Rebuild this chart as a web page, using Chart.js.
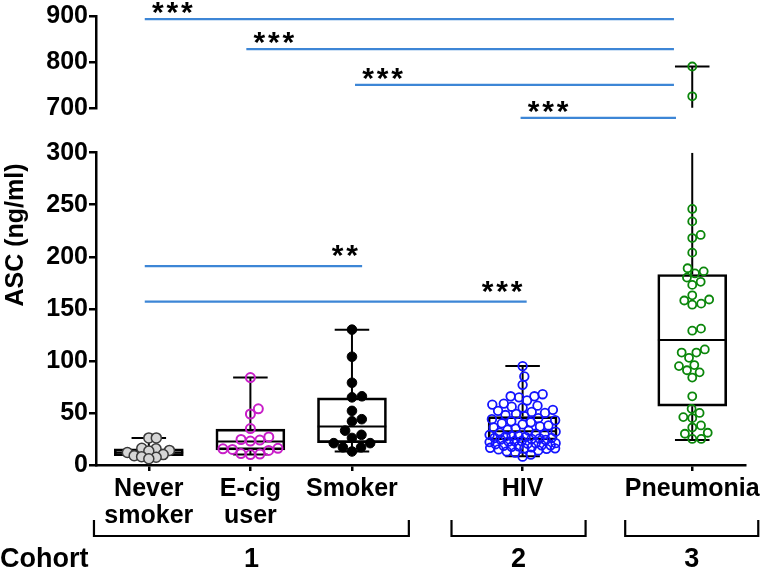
<!DOCTYPE html>
<html>
<head>
<meta charset="utf-8">
<script src="https://cdn.jsdelivr.net/npm/chart.js@4.4.0/dist/chart.umd.min.js"></script>
<style>
  html, body { margin: 0; padding: 0; background: #fff; }
  #wrap { width: 765px; height: 569px; }
</style>
</head>
<body>
<div id="wrap"><canvas id="ascChart"></canvas></div>
<script>
// groups along the x axis
var groupTicks = [["Never", "smoker"], ["E-cig", "user"], ["Smoker"], ["HIV"], ["Pneumonia"]];
var groupX = [1, 2, 3, 4.68, 6.35];

// ASC (ng/ml) per subject
var neverSmoker = [26, 26, 16, 15.5, 14, 13.5, 12, 10, 9, 8, 7.5, 6];
var ecigUser = [84, 54, 49, 35, 27, 24.5, 24, 23, 16, 15.5, 15, 14, 11, 10.5, 10];
var smoker = [130, 104, 79, 66, 65, 52, 44, 42, 33, 29, 26, 21, 21, 17, 17, 13];
var hiv = [95, 85, 77, 68, 66, 66, 65, 62, 59, 58, 57, 56, 55, 53, 52, 51, 50, 49, 48, 47,
  45, 44, 43, 42, 41, 40, 39, 38, 37, 36, 35, 34, 33, 32, 31, 30, 29.5, 29, 28, 28,
  27.5, 27, 26, 26, 25.5, 25, 24.5, 24, 23, 23, 22.5, 22, 21, 21, 20.5, 20, 19, 19,
  18.5, 18, 17.5, 17, 16.5, 16, 16, 15.5, 15, 14, 13, 12, 10, 8];
var pneumonia = [790, 725, 246, 234, 221, 218, 204, 189, 186, 184, 180, 176, 173, 163, 159,
  158, 155, 154, 131, 129, 111, 108, 108, 103, 96, 95, 91, 89, 84, 66, 54, 50, 46, 45,
  38, 36, 31, 30, 25, 25];

// box and whisker stats per group
var boxMin = [6, 10, 13, 8.5, 24];
var boxQ1 = [9, 14.5, 21.5, 24, 56.5];
var boxMedian = [12, 22.5, 37, 32.5, 120];
var boxQ3 = [15.5, 34.5, 64.5, 46.5, 183];
var boxMax = [26, 84, 130, 95, 790];

// broken y axis
var lowRange = [0, 300];
var highRange = [700, 900];

// significance bars
var sigY = [893, 828, 750, 678, 191, 157];
var sigFrom = [0.96, 1.96, 3.03, 4.66, 0.96, 0.96];
var sigTo = [6.17, 6.17, 6.17, 6.19, 3.1, 4.72];
var sigText = ["***", "***", "***", "***", "**", "***"];

// cohort brackets under the axis
var cohortFrom = [0.46, 3.98, 5.69];
var cohortTo = [3.56, 5.3, 7.0];
var cohortNames = ["1", "2", "3"];

var FONT = "'Liberation Sans', Arial, sans-serif";

function pointSet(values, g, high) {
  return values.filter(function (v) { return high ? v > lowRange[1] : v <= lowRange[1]; })
    .map(function (v) { return { x: groupX[g], y: v }; });
}

var pointStyles = [
  { bg: "#d6d6d6", border: "#3a3a3a", r: 5, w: 1.5 },
  { bg: "rgba(0,0,0,0)", border: "#c81ec8", r: 4.5, w: 2 },
  { bg: "#000000", border: "#000000", r: 4.8, w: 1 },
  { bg: "rgba(0,0,0,0)", border: "#1414ff", r: 4.3, w: 1.8 },
  { bg: "rgba(0,0,0,0)", border: "#0b870b", r: 4, w: 1.8 }
];
var allValues = [neverSmoker, ecigUser, smoker, hiv, pneumonia];

var pointDatasets = [];
allValues.forEach(function (vals, g) {
  [false, true].forEach(function (high) {
    var d = pointSet(vals, g, high);
    if (!d.length) return;
    var st = pointStyles[g];
    pointDatasets.push({
      type: "scatter",
      data: d,
      groupIndex: g,
      yAxisID: high ? "yHigh" : "yLow",
      pointRadius: st.r,
      pointBorderWidth: st.w,
      pointBackgroundColor: st.bg,
      pointBorderColor: st.border,
      order: 0
    });
  });
});

// whiskers, caps and medians as broken line segments
var boxHalf = 0.338, capHalf = 0.17;
var whiskLow = [], whiskHigh = [];
groupX.forEach(function (cx, i) {
  var gap = { x: cx, y: null };
  whiskLow.push({ x: cx - boxHalf, y: boxMedian[i] }, { x: cx + boxHalf, y: boxMedian[i] }, gap);
  whiskLow.push({ x: cx, y: boxQ1[i] }, { x: cx, y: boxMin[i] }, gap);
  whiskLow.push({ x: cx - capHalf, y: boxMin[i] }, { x: cx + capHalf, y: boxMin[i] }, gap);
  if (boxMax[i] > lowRange[1]) {
    whiskLow.push({ x: cx, y: boxQ3[i] }, { x: cx, y: lowRange[1] }, gap);
    whiskHigh.push({ x: cx, y: highRange[0] - 2 }, { x: cx, y: boxMax[i] }, gap);
    whiskHigh.push({ x: cx - capHalf, y: boxMax[i] }, { x: cx + capHalf, y: boxMax[i] }, gap);
  } else {
    whiskLow.push({ x: cx, y: boxQ3[i] }, { x: cx, y: boxMax[i] }, gap);
    whiskLow.push({ x: cx - capHalf, y: boxMax[i] }, { x: cx + capHalf, y: boxMax[i] }, gap);
  }
});

var lineStyle = { type: "line", borderColor: "#000", borderWidth: 2, pointRadius: 0, spanGaps: false, order: 1 };

var datasets = pointDatasets.concat([
  Object.assign({ data: whiskLow, yAxisID: "yLow" }, lineStyle),
  Object.assign({ data: whiskHigh, yAxisID: "yHigh" }, lineStyle),
  {
    type: "bar",
    data: groupX.map(function (cx, i) { return { x: cx, y: [boxQ1[i], boxQ3[i]] }; }),
    yAxisID: "yLow",
    barThickness: 69,
    backgroundColor: "rgba(255,255,255,0)",
    borderColor: "#000",
    borderWidth: 2,
    borderSkipped: false,
    order: 2
  }
]);

var decorPlugin = {
  id: "decor",
  afterDraw: function (chart) {
    var ctx = chart.ctx, xs = chart.scales.x;
    ctx.save();
    // significance bars and stars
    ctx.strokeStyle = "#3d86d6";
    ctx.lineWidth = 2.3;
    ctx.fillStyle = "#000";
    ctx.font = "bold 30px " + FONT;
    var m = ctx.measureText("*");
    var starMid = (m.actualBoundingBoxAscent - m.actualBoundingBoxDescent) / 2;
    sigY.forEach(function (v, i) {
      var sc = v > lowRange[1] + 50 ? chart.scales.yHigh : chart.scales.yLow;
      var py = sc.getPixelForValue(v);
      var x0 = xs.getPixelForValue(sigFrom[i]), x1 = xs.getPixelForValue(sigTo[i]);
      ctx.beginPath();
      ctx.moveTo(x0, py);
      ctx.lineTo(x1, py);
      ctx.stroke();
      var n = sigText[i].length;
      var leftSide = sc === chart.scales.yHigh;
      var first = leftSide ? x0 + 13 : x1 - 10 - (n - 1) * 14.5;
      var cy = py - (leftSide ? 11 : 15);
      ctx.textAlign = "center";
      ctx.textBaseline = "alphabetic";
      for (var k = 0; k < n; k++) {
        ctx.fillText("*", first + k * 14.5, cy + starMid);
      }
    });

    // y axis title
    ctx.save();
    ctx.translate(16, 235);
    ctx.rotate(-Math.PI / 2);
    ctx.font = "bold 25px " + FONT;
    ctx.textAlign = "center";
    ctx.textBaseline = "middle";
    ctx.fillText("ASC (ng/ml)", 0, 0);
    ctx.restore();

    // cohort brackets
    ctx.strokeStyle = "#000";
    ctx.lineWidth = 2.2;
    ctx.font = "bold 27px " + FONT;
    ctx.textBaseline = "alphabetic";
    cohortFrom.forEach(function (v, i) {
      var a = xs.getPixelForValue(v), b = xs.getPixelForValue(cohortTo[i]);
      ctx.beginPath();
      ctx.moveTo(a, 520);
      ctx.lineTo(a, 536);
      ctx.lineTo(b, 536);
      ctx.lineTo(b, 520);
      ctx.stroke();
      ctx.textAlign = "center";
      ctx.fillText(cohortNames[i], (a + b) / 2, 567);
    });
    ctx.textAlign = "left";
    ctx.fillText("Cohort", 0, 567);
    ctx.restore();
  }
};

var yCommon = {
  type: "linear",
  position: "left",
  stack: "y",
  border: { display: true, color: "#000", width: 2.5 },
  grid: { display: true, drawOnChartArea: false, drawTicks: true, tickLength: 7, color: "#000", lineWidth: 2.5 },
  ticks: { color: "#000", autoSkip: false, font: { family: FONT, size: 25, weight: "bold" }, padding: 1 },
  afterFit: function (s) { s.width = 96; }
};

var config = {
  type: "scatter",
  data: { datasets: datasets },
  plugins: [decorPlugin],
  options: {
    responsive: true,
    maintainAspectRatio: false,
    animation: false,
    layout: { padding: { top: 15, right: 17, left: 0, bottom: 0 } },
    plugins: { legend: { display: false }, tooltip: { enabled: false } },
    scales: {
      x: {
        type: "linear",
        min: 0.48,
        max: 6.873,
        offset: false,
        border: { display: true, color: "#000", width: 2.5 },
        grid: { display: true, offset: false, drawOnChartArea: false, drawTicks: true, tickLength: 6, color: "#000", lineWidth: 2.5 },
        ticks: {
          color: "#000",
          autoSkip: false,
          maxRotation: 0,
          padding: 4,
          font: { family: FONT, size: 25, weight: "bold", lineHeight: 1.1 },
          callback: function (v, i) { return groupTicks[i]; }
        },
        afterBuildTicks: function (s) { s.ticks = groupX.map(function (v) { return { value: v }; }); },
        afterFit: function (s) { s.height = 104; }
      },
      yHigh: Object.assign({}, yCommon, {
        min: highRange[0], max: highRange[1], weight: 3, stackWeight: 92,
        ticks: Object.assign({}, yCommon.ticks, { stepSize: 100 })
      }),
      yGap: {
        type: "linear", position: "left", stack: "y", weight: 2, stackWeight: 45, min: 0, max: 1,
        border: { display: false }, grid: { display: false }, ticks: { display: false },
        afterFit: function (s) { s.width = 96; }
      },
      yLow: Object.assign({}, yCommon, {
        min: lowRange[0], max: lowRange[1], weight: 1, stackWeight: 313,
        ticks: Object.assign({}, yCommon.ticks, { stepSize: 50 })
      })
    }
  }
};

var chart = new Chart(document.getElementById("ascChart").getContext("2d"), config);

// spread points sideways like a beeswarm, using the real pixel scales
var swarmGap = [7.5, 9.5, 10, 8.5, 9];
var swarmWidth = [24, 32, 32, 33, 40];
function swarm(ys, d, maxW) {
  var order = ys.map(function (y, i) { return i; }).sort(function (a, b) { return ys[b] - ys[a]; });
  var placed = [], dx = [];
  order.forEach(function (i) {
    var y = ys[i], cands = [0], best = null;
    placed.forEach(function (p) {
      var dy = Math.abs(p.y - y);
      if (dy < d) {
        var off = Math.sqrt(d * d - dy * dy);
        cands.push(p.x + off, p.x - off);
      }
    });
    cands.sort(function (a, b) { return Math.abs(a) - Math.abs(b); });
    for (var c = 0; c < cands.length; c++) {
      var cx = cands[c];
      if (Math.abs(cx) > maxW) break;
      var ok = placed.every(function (p) { return (p.x - cx) * (p.x - cx) + (p.y - y) * (p.y - y) >= d * d - 0.01; });
      if (ok) { best = cx; break; }
    }
    if (best === null) {
      var bestDist = -1;
      for (var t = -maxW; t <= maxW; t += 1) {
        var md = Infinity;
        placed.forEach(function (p) {
          var dd = (p.x - t) * (p.x - t) + (p.y - y) * (p.y - y);
          if (dd < md) md = dd;
        });
        if (md > bestDist + 0.01) { bestDist = md; best = t; }
      }
    }
    dx[i] = best;
    placed.push({ x: best, y: y });
  });
  return dx;
}

var pxPerUnit = chart.scales.x.getPixelForValue(1) - chart.scales.x.getPixelForValue(0);
groupX.forEach(function (cx, g) {
  var items = [];
  pointDatasets.forEach(function (ds) {
    if (ds.groupIndex !== g) return;
    ds.data.forEach(function (p) {
      items.push({ p: p, y: chart.scales[ds.yAxisID].getPixelForValue(p.y) });
    });
  });
  var dx = swarm(items.map(function (it) { return it.y; }), swarmGap[g], swarmWidth[g]);
  items.forEach(function (it, k) { it.p.x = cx + dx[k] / pxPerUnit; });
});
chart.update("none");
</script>
</body>
</html>
